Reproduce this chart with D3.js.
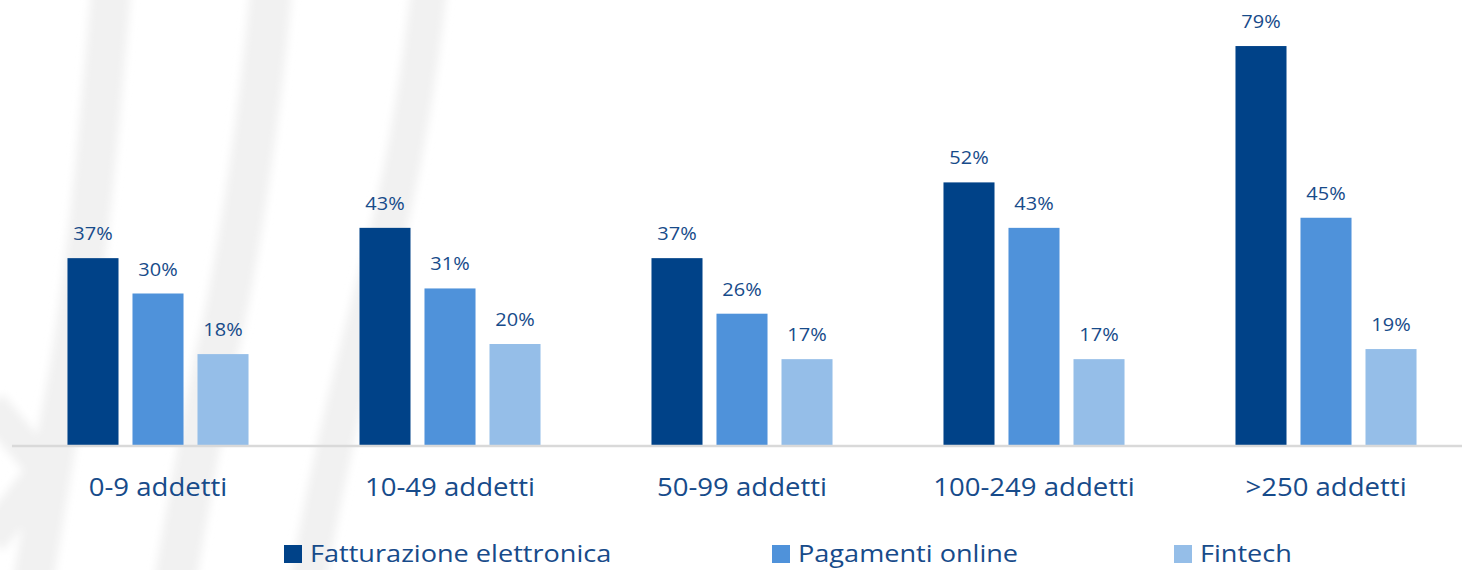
<!DOCTYPE html>
<html>
<head>
<meta charset="utf-8">
<script src="https://cdn.jsdelivr.net/npm/d3@7"></script>
<style>
  html, body { margin: 0; padding: 0; background: #ffffff; }
  svg { display: block; font-family: "Open Sans", Lato, sans-serif; }
</style>
</head>
<body>
<svg id="chart" width="1462" height="570"></svg>
<script>
// Categories (company size) and adoption shares per digital tool, in %
const categories = ["0-9 addetti", "10-49 addetti", "50-99 addetti", "100-249 addetti", ">250 addetti"];
const seriesNames = ["Fatturazione elettronica", "Pagamenti online", "Fintech"];
const fatturazione = [37, 43, 37, 52, 79];
const pagamenti = [30, 31, 26, 43, 45];
const fintech = [18, 20, 17, 17, 19];

const colors = ["#004288", "#4f92da", "#95bee8"];
const textColor = "#174b8a";

const W = 1462, H = 570;
const svg = d3.select("#chart");

// faint decorative strokes in the background
const defs = svg.append("defs");
defs.append("filter").attr("id", "soft")
  .attr("x", "-20%").attr("y", "-20%").attr("width", "140%").attr("height", "140%")
  .append("feGaussianBlur").attr("stdDeviation", 4);

const bg = svg.append("g")
  .attr("fill", "none")
  .attr("stroke", "#f1f1f1")
  .attr("stroke-linecap", "butt")
  .attr("filter", "url(#soft)");
const swoosh = [
  { d: "M112,-20 C100,120 85,300 60,420 C50,480 40,540 30,600", w: 40 },
  { d: "M272,-20 C260,120 235,280 215,360 C200,440 185,520 172,600", w: 42 },
  { d: "M430,-20 C415,120 390,230 370,300 C345,400 325,480 305,600", w: 36 },
  { d: "M-10,405 L45,470 L-10,540", w: 34 }
];
bg.selectAll("path").data(swoosh).join("path")
  .attr("d", s => s.d)
  .attr("stroke-width", s => s.w);

const series = seriesNames.map((name, i) => ({ name, values: [fatturazione, pagamenti, fintech][i] }));

const x0 = d3.scaleBand().domain(categories).range([12, 1472]).paddingInner(0.38).paddingOuter(0.19);
const x1 = d3.scaleBand().domain(seriesNames).range([0, x0.bandwidth()]).paddingInner(0.215);
const y = d3.scaleLinear().domain([0, 80]).range([445, 41]);

const groups = svg.append("g").selectAll("g").data(categories).join("g")
  .attr("transform", c => `translate(${x0(c)},0)`);

const cells = groups.selectAll("g.bar").data((c, ci) => series.map((s, si) => ({ s, si, v: s.values[ci] })))
  .join("g").attr("class", "bar");

cells.append("rect")
  .attr("x", d => x1(d.s.name))
  .attr("width", x1.bandwidth())
  .attr("y", d => y(d.v))
  .attr("height", d => y(0) - y(d.v))
  .attr("fill", d => colors[d.si]);

// value labels above each bar
cells.append("text")
  .attr("transform", d => `translate(${x1(d.s.name) + x1.bandwidth() / 2},${y(d.v) - 18}) scale(1.05,1)`)
  .attr("text-anchor", "middle")
  .attr("fill", textColor)
  .attr("font-size", 19)
  .text(d => d.v + "%");

// baseline
svg.append("line")
  .attr("x1", 12).attr("x2", W)
  .attr("y1", y(0) + 1).attr("y2", y(0) + 1)
  .attr("stroke", "#d9d9d9").attr("stroke-width", 2.5);

// category axis labels
const xAxis = d3.axisBottom(x0).tickSize(0).tickPadding(0);
const axisG = svg.append("g").attr("transform", `translate(0,${y(0)})`).call(xAxis);
axisG.select(".domain").remove();
axisG.selectAll("text")
  .attr("dy", null)
  .attr("y", 0)
  .attr("transform", "translate(0,51) scale(1.06,1)")
  .attr("fill", textColor)
  .attr("font-size", 26)
  .attr("font-family", "'Open Sans', sans-serif");

// legend
const legendX = [284, 772, 1174];
const legend = svg.append("g").selectAll("g").data(seriesNames).join("g")
  .attr("transform", (d, i) => `translate(${legendX[i]},545)`);
legend.append("rect").attr("width", 18).attr("height", 18).attr("fill", (d, i) => colors[i]);
legend.append("text")
  .attr("transform", "translate(26,17) scale(1.13,1)")
  .attr("fill", textColor)
  .attr("font-size", 24)
  .text(d => d);
</script>
</body>
</html>
